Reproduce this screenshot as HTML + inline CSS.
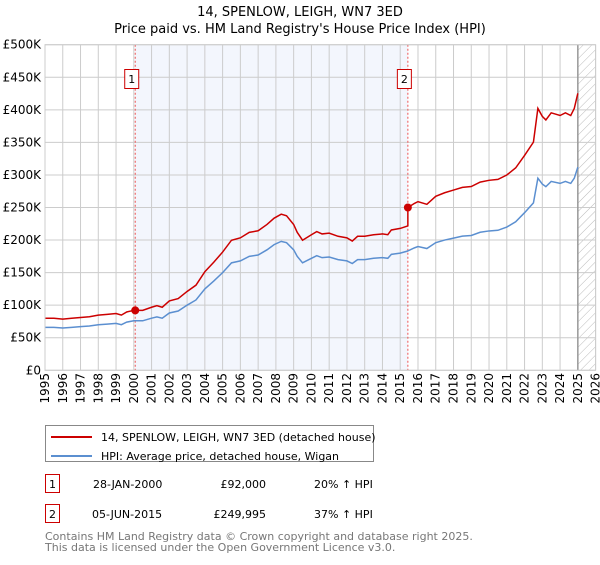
<!DOCTYPE html>
<html><head><meta charset="utf-8"><style>
body{margin:0;background:#fff;font-family:"Liberation Sans","DejaVu Sans",sans-serif;}
svg text{font-family:"DejaVu Sans","Liberation Sans",sans-serif;}
</style></head><body>
<svg id="c" width="600" height="560" viewBox="0 0 600 560" xmlns="http://www.w3.org/2000/svg">
<defs><pattern id="hatch" width="6" height="6" patternUnits="userSpaceOnUse" patternTransform="rotate(45)"><line x1="0" y1="0" x2="0" y2="6" stroke="#bbb" stroke-width="1"/></pattern></defs>
<text x="300" y="16" text-anchor="middle" font-size="13">14, SPENLOW, LEIGH, WN7 3ED</text>
<text x="300" y="33" text-anchor="middle" font-size="13">Price paid vs. HM Land Registry's House Price Index (HPI)</text>
<g id="plot"></g>
<g>
<rect x="45.5" y="425.5" width="328" height="36" fill="#fff" stroke="#888"/>
<line x1="51" y1="437" x2="92" y2="437" stroke="#cc0000" stroke-width="2"/>
<text x="101" y="441" font-size="11">14, SPENLOW, LEIGH, WN7 3ED (detached house)</text>
<line x1="51" y1="456" x2="92" y2="456" stroke="#5b8fd0" stroke-width="2"/>
<text x="101" y="460" font-size="11">HPI: Average price, detached house, Wigan</text>
</g>
<g font-size="11">
<rect x="45.5" y="474.5" width="14" height="18" fill="#fff" stroke="#cc0000"/>
<text x="52.5" y="488" text-anchor="middle">1</text>
<text x="93" y="488">28-JAN-2000</text>
<text x="266" y="488" text-anchor="end">£92,000</text>
<text x="314" y="488">20% ↑ HPI</text>
<rect x="45.5" y="504.5" width="14" height="18" fill="#fff" stroke="#cc0000"/>
<text x="52.5" y="518" text-anchor="middle">2</text>
<text x="92" y="518">05-JUN-2015</text>
<text x="266" y="518" text-anchor="end">£249,995</text>
<text x="314" y="518">37% ↑ HPI</text>
</g>
<text x="45" y="540" font-size="11" fill="#777">Contains HM Land Registry data © Crown copyright and database right 2025.</text>
<text x="45" y="551" font-size="11" fill="#777">This data is licensed under the Open Government Licence v3.0.</text>
</svg>
<script>
const years=[1995,1996,1997,1998,1999,2000,2001,2002,2003,2004,2005,2006,2007,2008,2009,2010,2011,2012,2013,2014,2015,2016,2017,2018,2019,2020,2021,2022,2023,2024,2025,2026];
const yTicks=[0,50,100,150,200,250,300,350,400,450,500];
const yTickLabels=["£0","£50K","£100K","£150K","£200K","£250K","£300K","£350K","£400K","£450K","£500K"];
const hpiDates=[1995,1995.5,1996,1996.5,1997,1997.5,1998,1998.5,1999,1999.3,1999.6,2000,2000.5,2001,2001.3,2001.6,2002,2002.5,2003,2003.5,2004,2004.5,2005,2005.5,2006,2006.5,2007,2007.5,2007.9,2008.3,2008.6,2009,2009.2,2009.5,2010,2010.3,2010.6,2011,2011.5,2012,2012.3,2012.6,2013,2013.5,2014,2014.3,2014.5,2015,2015.4,2015.8,2016,2016.5,2017,2017.5,2018,2018.5,2019,2019.5,2020,2020.5,2021,2021.5,2022,2022.5,2022.75,2023,2023.2,2023.5,2024,2024.3,2024.6,2024.8,2025];
const hpiValues=[66,66,65,66,67,68,70,71,72,70,74,76,76,80,82,80,88,91,100,108,125,137,150,165,168,175,177,185,193,198,196,185,175,165,172,176,173,174,170,168,164,170,170,172,173,172,178,180,183,188,190,187,196,200,203,206,207,212,214,215,220,228,242,257,295,286,282,290,287,290,287,295,312];
const sale1Date=2000.08, sale1Price=92;
const sale2Date=2015.43, sale2Price=249.995;
const X0=45,X1=595.6,Y0=370.3,Y1=44.7;
const xs=y=>X0+(y-1995)*(X1-X0)/31;
const ys=v=>Y0-v*(Y0-Y1)/500;
const g=document.getElementById('plot');
const NS='http://www.w3.org/2000/svg';
function mk(t,a){const e=document.createElementNS(NS,t);for(const k in a)e.setAttribute(k,a[k]);g.appendChild(e);return e;}
function hpiAt(d){for(let i=0;i<hpiDates.length-1;i++){if(d>=hpiDates[i]&&d<=hpiDates[i+1]){const f=(d-hpiDates[i])/(hpiDates[i+1]-hpiDates[i]);return hpiValues[i]+f*(hpiValues[i+1]-hpiValues[i]);}}return hpiValues[hpiValues.length-1];}
let e=mk('rect',{x:xs(sale1Date),y:Y1,width:xs(sale2Date)-xs(sale1Date),height:Y0-Y1,fill:'#f3f6fd'});


e=mk('rect',{x:xs(2025.0),y:Y1,width:X1-xs(2025.0),height:Y0-Y1,fill:'url(#hatch)'});


years.forEach((y,i)=>{
 const l=mk('line',{x1:xs(y),x2:xs(y),y1:Y1,y2:Y0,stroke:'#cccccc','stroke-width':1});
 
 
 const t=mk('text',{x:0,y:0,'font-size':12,'text-anchor':'end',transform:`translate(${xs(y)+4},373) rotate(-90)`});
 t.textContent=y;
 
 
});
yTicks.forEach((v,i)=>{
 const l=mk('line',{x1:X0,x2:X1,y1:ys(v),y2:ys(v),stroke:'#cccccc','stroke-width':1});
 
 
 const t=mk('text',{x:X0-4,y:ys(v)+4,'font-size':12,'text-anchor':'end'});
 t.textContent=yTickLabels[i];
 
 
});
e=mk('line',{x1:xs(2025.0),x2:xs(2025.0),y1:Y1,y2:Y0,stroke:'#999','stroke-width':1.5});


[[sale1Date,'1'],[sale2Date,'2']].forEach(([d,n])=>{
 const l=mk('line',{x1:xs(d),x2:xs(d),y1:Y1,y2:Y0,stroke:'#ee5555','stroke-width':1,'stroke-dasharray':'2,2'});
 
 
 const r=mk('rect',{x:xs(d)-10.5,y:69.5,width:14,height:19,fill:'#fff',stroke:'#cc0000'});
 
 
 const t=mk('text',{x:xs(d)-3.5,y:83,'font-size':11,'text-anchor':'middle'});
 t.textContent=n;
 
 
});
e=mk('polyline',{points:hpiDates.map((d,i)=>xs(d)+','+ys(hpiValues[i])).join(' '),fill:'none',stroke:'#5b8fd0','stroke-width':1.5});


const r1=sale1Price/hpiAt(sale1Date), r2=sale2Price/hpiAt(sale2Date);
const pts=[];
hpiDates.forEach((d,i)=>{
 if(d<sale2Date){pts.push([d,hpiValues[i]*r1]);}
 else{ if(pts.length&&pts[pts.length-1][0]<sale2Date){pts.push([sale2Date,hpiAt(sale2Date)*r1]);pts.push([sale2Date,sale2Price]);}
 pts.push([d,hpiValues[i]*r2]);}
});
e=mk('polyline',{points:pts.map(p=>xs(p[0])+','+ys(p[1])).join(' '),fill:'none',stroke:'#cc0000','stroke-width':1.5});


e=mk('circle',{cx:xs(sale1Date),cy:ys(sale1Price),r:4,fill:'#cc0000'});


e=mk('circle',{cx:xs(sale2Date),cy:ys(sale2Price),r:4,fill:'#cc0000'});


e=mk('rect',{x:X0,y:Y1,width:X1-X0,height:Y0-Y1,fill:'none',stroke:'#cccccc'});


</script>
</body></html>
